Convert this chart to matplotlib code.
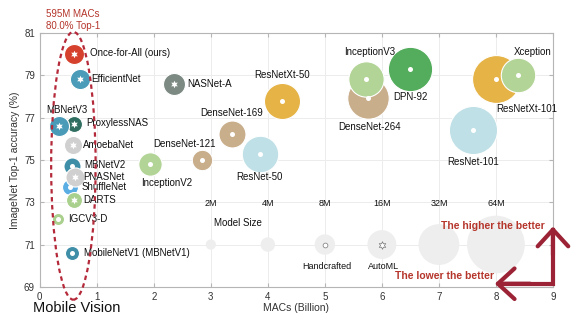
import matplotlib
matplotlib.use("Agg")
import matplotlib.pyplot as plt
from matplotlib.patches import Ellipse

plt.rcParams["font.family"] = ["Liberation Sans", "DejaVu Sans"]

# модели: MACs (млрд), top-1 (%), параметры (млн), поиск AutoML или ручная
models = ["DenseNet-264", "InceptionV3", "ResNetXt-101", "Xception", "ResNet-101", "DPN-92",
          "ResNetXt-50", "ResNet-50", "DenseNet-169", "DenseNet-121", "InceptionV2",
          "NASNet-A", "EfficientNet", "Once-for-All (ours)", "ProxylessNAS", "MBNetV3",
          "AmoebaNet", "ShuffleNet", "MBNetV2", "PNASNet", "DARTS", "IGCV3-D",
          "MobileNetV1 (MBNetV1)"]
macs = [5.75, 5.73, 8.0, 8.39, 7.6, 6.5, 4.25, 3.86, 3.37, 2.84, 1.94,
        2.35, 0.70, 0.60, 0.60, 0.34, 0.58, 0.53, 0.56, 0.61, 0.60, 0.32, 0.57]
top1 = [77.9, 78.8, 78.8, 79.0, 76.4, 79.3, 77.8, 75.3, 76.2, 75.0, 74.8,
        78.6, 78.8, 80.0, 76.7, 76.6, 75.7, 73.7, 74.7, 74.2, 73.1, 72.2, 70.6]
params = [33, 24, 44, 22.8, 44.5, 37.7, 25, 25.5, 14, 8, 10.5,
          9.3, 7.8, 7.7, 4.9, 7.7, 6.3, 4.9, 5.6, 7.0, 4.9, 2.8, 3.8]
automl = [False, False, False, False, False, False, False, False, False, False, False,
          True, True, True, True, True, True, False, False, True, True, False, False]
colors = ["#c9ae8c", "#b3d497", "#e6b347", "#b3d497", "#bfe0e6", "#53ad5c",
          "#e6b347", "#bfe0e6", "#c9ae8c", "#c9ae8c", "#b3d497",
          "#7c8a83", "#4b9cb8", "#d5412c", "#2f6e60", "#4a9bb8",
          "#d0d0d0", "#5aaee3", "#3f8ea8", "#d0d0d0", "#a9d08c", "#a9d08c", "#3f8ea8"]

# подписи: позиция и выравнивание
label_xy = [(5.78, 76.55, "center"), (5.78, 80.1, "center"), (8.54, 77.4, "center"),
            (8.65, 80.1, "center"), (7.6, 74.9, "center"), (6.5, 77.97, "center"),
            (4.25, 79.0, "center"), (3.86, 74.2, "center"), (3.37, 77.2, "center"),
            (2.54, 75.75, "center"), (2.23, 73.9, "center"),
            (2.58, 78.6, "left"), (0.91, 78.8, "left"), (0.89, 80.05, "left"),
            (0.81, 76.75, "left"), (0.48, 77.35, "center"), (0.76, 75.7, "left"),
            (0.73, 73.7, "left"), (0.78, 74.77, "left"), (0.76, 74.2, "left"),
            (0.76, 73.1, "left"), (0.49, 72.2, "left"), (0.78, 70.6, "left")]

# легенда размера модели
size_x = [3, 4, 5, 6, 7, 8]
size_m = [2, 4, 8, 16, 32, 64]
size_lbl = ["2M", "4M", "8M", "16M", "32M", "64M"]

K = 27.0  # площадь маркера на 1M параметров
DARK_RED = "#9b2335"
RED = "#b5352b"

fig = plt.figure(figsize=(5.76, 3.22), dpi=100)
ax = fig.add_axes([0.069, 0.109, 0.891, 0.789])
ax.set_xlim(0, 9)
ax.set_ylim(69, 81)
ax.set_xticks(range(0, 10))
ax.set_yticks(range(69, 82, 2))
ax.grid(color="#ececec", lw=0.7)
ax.set_axisbelow(True)
for sp in ax.spines.values():
    sp.set_color("#b5b5b5")
ax.tick_params(direction="in", length=3, labelsize=7, colors="#b5b5b5",
               labelcolor="#333333", top=True, right=True)
ax.set_xlabel("MACs (Billion)", fontsize=7.5, color="#333333", labelpad=1)
ax.set_ylabel("ImageNet Top-1 accuracy (%)", fontsize=7.5, color="#333333", labelpad=3)

for i, name in enumerate(models):
    ax.scatter(macs[i], top1[i], s=K * params[i], color=colors[i],
               edgecolors="white", linewidths=0.8, zorder=3 + i * 0.01)
    if automl[i]:
        ax.scatter(macs[i], top1[i], s=30, marker=(6, 1, 0), color="white",
                   linewidths=0, zorder=3.5 + i * 0.01)
    else:
        ax.scatter(macs[i], top1[i], s=13, marker="o", color="white",
                   linewidths=0, zorder=3.5 + i * 0.01)
    lx, ly, ha = label_xy[i]
    ax.text(lx, ly, name, fontsize=7, ha=ha, va="center", color="#111111", zorder=5)

# легенда размера
ax.scatter(size_x, [71.0] * len(size_x), s=[K * m for m in size_m],
           color="#eeeeee", linewidths=0, zorder=2)
for x, lbl in zip(size_x, size_lbl):
    ax.text(x, 72.95, lbl, fontsize=6.5, ha="center", va="center", color="#111111")
ax.text(3.47, 72.0, "Model Size", fontsize=7, ha="center", va="center", color="#111111")
ax.scatter([5], [71.0], s=12, marker="o", facecolor="white", edgecolor="#777777",
           linewidths=0.5, zorder=3)
ax.scatter([6], [71.0], s=30, marker=(6, 1, 0), facecolor="white", edgecolor="#777777",
           linewidths=0.5, zorder=3)
ax.text(5.04, 69.95, "Handcrafted", fontsize=6.5, ha="center", va="center", color="#111111")
ax.text(6.03, 69.95, "AutoML", fontsize=6.5, ha="center", va="center", color="#111111")

# стрелки "лучше"
ax.plot([8.1, 9, 9], [69.15, 69.15, 71.7], lw=3, color=DARK_RED,
        solid_joinstyle="miter", clip_on=False, zorder=6)
arrow = dict(arrowstyle="->,head_length=0.6,head_width=0.55", lw=3, color=DARK_RED,
             mutation_scale=20, shrinkA=0, shrinkB=0)
ax.annotate("", xy=(9, 71.85), xytext=(9, 70.5), arrowprops=arrow,
            annotation_clip=False, zorder=6)
ax.annotate("", xy=(7.98, 69.15), xytext=(8.6, 69.15), arrowprops=arrow,
            annotation_clip=False, zorder=6)
ax.text(7.95, 71.9, "The higher the better", fontsize=7.5, fontweight="bold",
        ha="center", va="center", color=RED, zorder=6)
ax.text(7.1, 69.5, "The lower the better", fontsize=7.5, fontweight="bold",
        ha="center", va="center", color=RED, zorder=6)

# мобильная зона
ax.add_patch(Ellipse((0.59, 74.72), 0.78, 12.65, fill=False, ls=(0, (2, 1.6)),
                     lw=1.6, color="#b52a3a", clip_on=False, zorder=7))
fig.text(0.127, 0.955, "595M MACs", fontsize=7, ha="center", va="center", color=RED)
fig.text(0.127, 0.918, "80.0% Top-1", fontsize=7, ha="center", va="center", color=RED)
fig.text(0.057, 0.043, "Mobile Vision", fontsize=10.5, ha="left", va="center", color="#111111")

fig.savefig("out.png", dpi=100)
